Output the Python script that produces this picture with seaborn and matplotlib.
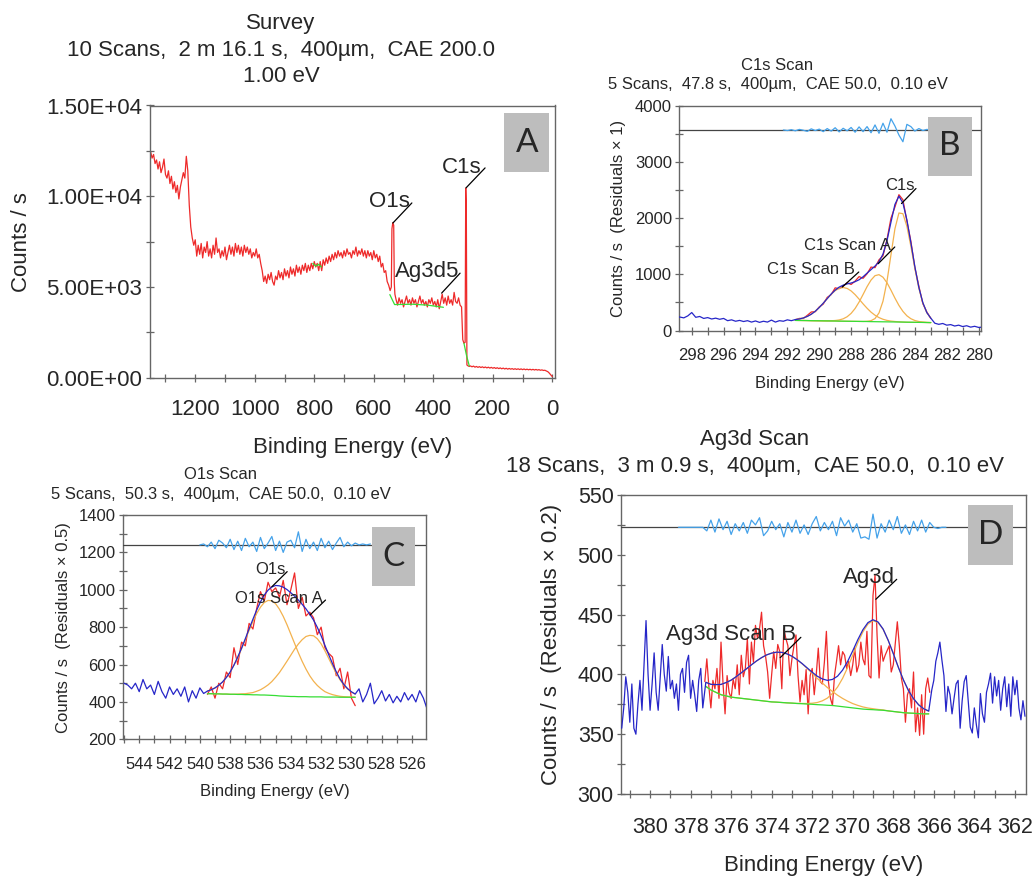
import numpy as np
import matplotlib
matplotlib.use("Agg")
import matplotlib.pyplot as plt
from matplotlib.ticker import MultipleLocator, FuncFormatter
from matplotlib.patches import Rectangle
import seaborn as sns

# ======================= DATA =======================
# ---- Panel A : survey (binding energy eV, counts/s) ----
survey_seg1_start, survey_seg1_step = 1350, 5
survey_seg1_cps = [12450, 12100, 12300, 11800, 12000, 11500, 11900, 11300, 11600, 12050,
                   11200, 11000, 11400, 10700, 11100, 10400, 10800, 10200, 10600, 9850,
                   10500, 10900, 11300, 11000, 12200, 11400, 9500, 8300, 7700, 7300,
                   7600, 6700, 7300, 6800, 7400, 6600, 7200, 6900, 7500, 6700,
                   7100, 6600, 7300, 6800, 7700, 6900, 7100, 6600, 7000, 6700,
                   7200, 6500, 6900, 7300, 6800, 7200, 6700, 7400, 6900, 7300,
                   6800, 7200, 6700, 7300, 6900, 7200, 6800, 7100, 6600, 6900,
                   6700, 7100, 6600, 6800, 6300, 5900, 5300, 5600, 5200, 5700,
                   5400, 5800, 5300, 5100, 5600, 5400, 5900, 5500, 5800, 5400,
                   6000, 5600, 5900, 5500, 6100, 5700, 6000, 5600, 6200, 5800,
                   6100, 5700, 6200, 5900, 6300, 5800, 6200, 5900, 6300, 6000,
                   6400, 6100, 6300, 5900, 6400, 5900, 6500, 6200, 6600, 6300,
                   6700, 6400, 6800, 6500, 6900, 6600, 7000, 6700, 6900, 6600,
                   7000, 6700, 7100, 6800, 6900, 6600, 7000, 6800, 7200, 6700,
                   7000, 6800, 7100, 6700, 7000, 6600, 7000, 6700, 6900, 6500,
                   7000, 6600, 6800, 6400, 6700, 6100, 6300, 5800, 5900, 5300,
                   5100, 4800]
survey_o1s_be = [541, 539, 536, 533, 531, 529]
survey_o1s_cps = [5000, 8200, 8550, 8400, 5200, 4600]
survey_seg2_start, survey_seg2_step = 525, 5
survey_seg2_cps = [4300, 4000, 4400, 4100, 4300, 3900, 4200, 4500, 4100, 4300,
                   4000, 4400, 4100, 4300, 3900, 4200, 4500, 4100, 4300, 4000,
                   4200, 3900, 4300, 4100, 4400, 4000, 4200, 3900, 4300, 3800,
                   4200, 4600, 4100, 4400, 4000, 4500, 4100, 4300, 4000, 4700,
                   4200, 4100, 4400, 4000, 3900]
survey_c1s_be = [301, 297, 293, 291, 289, 287, 283, 279]
survey_c1s_cps = [2100, 1900, 1950, 10450, 9300, 700, 650, 620]
survey_seg3_start, survey_seg3_step = 275, 5
survey_seg3_cps = [650, 600, 640, 580, 620, 570, 610, 560, 600, 550,
                   590, 540, 580, 530, 570, 520, 560, 510, 550, 500,
                   540, 490, 530, 480, 520, 470, 510, 470, 500, 460,
                   495, 455, 490, 450, 485, 445, 480, 440, 470, 435,
                   465, 430, 460, 425, 455, 420, 445, 410, 430, 400,
                   410, 370, 330, 250, 150, 60]
survey_bg_be = [[805, 795, 785, 776], [546, 538, 530, 470, 420, 366], [297, 288, 279]]
survey_bg_cps = [[6300, 6150, 6250, 6100], [4580, 4300, 4030, 4050, 4000, 3880], [1900, 1200, 650]]

# ---- Panel B : C1s (0.25 eV grid) ----
c1s_raw_left_start = 299.0
c1s_raw_left = [235, 240, 225, 260, 320, 235, 250, 215, 230, 205, 220, 200, 215, 175, 190,
                165, 180, 160, 175, 150, 170, 145, 165, 150, 185, 150, 175, 165, 190, 175]
c1s_fit_start = 291.5
c1s_bg = [180, 179, 178, 177, 175, 174, 173, 172, 171, 170, 169, 167, 166, 165, 164, 163, 162, 161,
          160, 158, 157, 156, 155, 154, 153, 152, 151, 150, 148, 147, 146, 145, 144, 142, 141]
c1s_comp_B = [195, 205, 223, 251, 290, 343, 410, 486, 568, 646, 710, 752, 766, 750, 705, 639, 559, 475,
              397, 327, 272, 230, 200, 180, 168, 160, 155, 150, 148, 147, 146, 145, 144, 142, 141]
c1s_comp_A = [180, 179, 178, 177, 175, 174, 173, 172, 171, 174, 178, 188, 208, 245, 305, 392, 507, 642,
              781, 899, 977, 995, 949, 851, 719, 577, 447, 341, 262, 210, 178, 160, 151, 145, 141]
c1s_comp_main = [180, 179, 178, 177, 175, 174, 173, 172, 171, 170, 169, 167, 166, 165, 164, 163, 162, 161,
                 164, 175, 213, 313, 522, 876, 1348, 1814, 2094, 2081, 1856, 1500, 1105, 753, 489, 317, 220]
c1s_envelope = [195, 205, 223, 251, 290, 343, 410, 486, 568, 650, 719, 773, 808, 830, 846, 870, 904, 957,
                1022, 1085, 1148, 1226, 1361, 1599, 1929, 2247, 2394, 2272, 1970, 1563, 1137, 768, 496, 320, 220]
c1s_data = [190, 215, 215, 270, 330, 335, 420, 470, 590, 640, 760, 745, 790, 850, 820, 880, 960, 930,
            1010, 1130, 1120, 1260, 1330, 1620, 2000, 2200, 2420, 2330, 1950, 1590, 1120, 790, 480, 330, 215]
c1s_raw_right_start = 282.75
c1s_raw_right = [130, 110, 125, 95, 105, 80, 95, 70, 85, 60, 75, 55, 60]
c1s_resid_start = 292.25
c1s_resid_base = 3573
c1s_resid = [0, -10, 5, -15, 10, -5, -25, 20, -10, 15, -30, 25, -20, 40, -35, 30, -15, 45, -40, 55,
             -30, 60, -50, 90, -60, 120, -40, 200, 70, -90, -210, 100, 60, -20, 25, -10, 10, 0]

# ---- Panel C : O1s (0.25 eV grid) ----
o1s_raw_left_start = 545.0
o1s_raw_left = [500, 490, 470, 500, 455, 520, 470, 490, 440, 510, 455, 420, 480, 440, 470, 430,
                480, 400, 460, 420, 475, 445]
o1s_fit_start = 539.5
o1s_bg = [444, 444, 443, 443, 442, 442, 441, 441, 440, 440, 439, 439, 438, 438, 437, 437, 436, 435, 434, 432,
          431, 430, 429, 429, 428, 428, 428, 427, 427, 427, 427, 426, 426, 426, 426, 425, 425, 425, 425, 425]
o1s_comp_main = [458, 465, 475, 489, 507, 531, 560, 597, 638, 684, 733, 783, 830, 873, 907, 932, 943, 941, 925, 896,
                 858, 813, 763, 713, 663, 617, 576, 540, 511, 488, 470, 455, 446, 439, 434, 430, 428, 427, 426, 425]
o1s_comp_A = [444, 444, 443, 443, 442, 442, 441, 441, 442, 443, 444, 447, 450, 457, 465, 477, 491, 509, 532, 557,
              587, 618, 650, 682, 710, 733, 750, 756, 754, 738, 711, 674, 633, 592, 553, 518, 490, 469, 453, 442]
o1s_envelope = [458, 465, 475, 489, 507, 531, 560, 597, 640, 687, 738, 791, 842, 892, 935, 972, 998, 1015, 1023, 1021,
                1014, 1001, 984, 966, 945, 922, 898, 869, 838, 799, 754, 703, 653, 605, 561, 523, 493, 471, 454, 442]
o1s_data = [440, 480, 420, 500, 470, 560, 530, 690, 600, 720, 700, 820, 790, 900, 990, 940, 1040, 990, 1010, 960,
            1050, 920, 1000, 1090, 900, 960, 860, 880, 850, 760, 800, 690, 660, 640, 540, 580, 470, 560, 420, 380]
o1s_raw_right_start = 529.5
o1s_raw_right = [470, 400, 440, 500, 390, 420, 460, 405, 440, 395, 430, 400, 450, 410, 440, 400, 460, 420, 360]
o1s_resid_start = 540.0
o1s_resid_base = 1240
o1s_resid = [0, 5, -10, 15, -20, 25, 10, -15, 30, -25, 20, -30, 35, -10, 15, -35, 40, -20, 10, 45,
             -30, 20, -40, 15, 25, -15, 70, -35, 30, -20, 15, -30, 35, -15, 20, -25, 10, 40, -10, 15,
             -5, 10, 0, 5, 0, 5]

# ---- Panel D : Ag3d ----
ag_raw_left_start = 381.4   # 0.1 eV grid
ag_raw_left = [355, 372, 398, 385, 360, 392, 355, 350, 375, 395, 370, 408, 445, 400, 370, 392, 418, 385, 370, 398,
               425, 400, 386, 415, 388, 395, 380, 392, 370, 400, 405, 385, 410, 416, 380, 395, 383, 369, 395, 405,
               372]
ag_fit_start = 377.25       # 0.25 eV grid
ag_bg = [390, 387, 385, 383, 382, 381, 380.5, 380, 379.5, 379, 378.5, 378, 377.5, 377, 376.8, 376.5, 376.2, 376,
         375.7, 375.5, 375.2, 375, 374.7, 374.5, 374.2, 374, 373.5, 373, 372.5, 372, 371.5, 371, 370.7, 370.5,
         370.2, 370, 369.5, 369, 368.5, 368, 367.7, 367.5, 367.2, 367, 367]
ag_comp_B = [393.4, 391.7, 391.5, 391.6, 393.2, 395.2, 398.1, 401.3, 404.6, 408.0, 411.2, 414.0, 416.3, 417.8,
             418.6, 418.4, 417.2, 415.2, 412.4, 408.9, 405.0, 400.9, 396.7, 392.8, 389.0, 385.7, 382.6, 379.9,
             377.6, 375.6, 374.1, 372.8, 371.9, 371.3, 370.7, 370.3, 369.5, 369.0, 368.5, 368.0, 367.7, 367.5,
             367.2, 367.0, 367.0]
ag_comp_main = [390, 387, 385, 383, 382, 381, 380.5, 380, 379.5, 379, 378.5, 378, 377.5, 377, 376.8, 376.5, 376.2,
                376, 375.7, 375.7, 375.7, 375.9, 376.5, 377.9, 380.2, 384.1, 389.4, 396.7, 405.8, 416.1, 426.4,
                435.5, 442.1, 444.9, 443.3, 437.6, 428.5, 417.5, 406.0, 395.4, 386.5, 379.7, 374.6, 371.3, 369.3]
ag_envelope = [393.4, 391.7, 391.5, 391.6, 393.2, 395.2, 398.1, 401.3, 404.6, 408.0, 411.2, 414.0, 416.3, 417.8,
               418.6, 418.4, 417.2, 415.2, 412.4, 409.1, 405.5, 401.8, 398.5, 396.2, 395.0, 395.8, 398.5, 403.6,
               410.9, 419.7, 429.0, 437.3, 443.3, 445.7, 443.8, 437.9, 428.5, 417.5, 406.0, 395.4, 386.5, 379.7,
               374.6, 371.3, 369.3]
ag_data_start = 377.3       # 0.1 eV grid
ag_data = [394, 413, 390, 372, 395, 388, 405, 380, 427, 392, 367, 399, 385, 380, 396, 388, 408, 383, 416, 398,
           405, 430, 392, 427, 410, 441, 430, 438, 452, 424, 415, 402, 380, 400, 419, 405, 425, 419, 388, 438,
           430, 424, 399, 413, 424, 433, 399, 377, 395, 383, 404, 367, 399, 405, 383, 400, 422, 394, 392, 410,
           436, 394, 380, 374, 399, 411, 424, 408, 419, 416, 405, 411, 399, 408, 422, 402, 408, 427, 413, 408,
           436, 399, 397, 466, 483, 433, 397, 424, 411, 416, 420, 424, 402, 408, 426, 444, 424, 397, 388, 360,
           383, 388, 372, 402, 352, 372, 349, 383, 350, 388, 397, 385]
ag_raw_right_start = 366.1  # 0.1 eV grid
ag_raw_right = [387, 395, 411, 418, 427, 412, 399, 369, 390, 383, 367, 380, 392, 395, 355, 378, 394, 399, 377, 356,
                351, 372, 358, 347, 384, 367, 360, 385, 392, 401, 376, 398, 382, 395, 370, 388, 398, 373, 392, 365,
                398, 383, 395, 372, 362, 378, 365]
ag_resid_start = 378.6      # 0.2 eV grid
ag_resid_base = 523
ag_resid = [0, 0, 0, 0, 0, 0, 0,
            -3, 6, -4, 7, -2, 5, -6, 3, -3, 4, -5, 6, 2, 8, -7, -3, 5, -2, 3, -8, 4, -4, 6, -5, 2, -6, 3, 9,
            -3, 4, -2, 5, -7, 8, 1, 6, -4, 3, -9, -8, -10, 11, -9, 3, -4, 6, -2, 9, -5, 2, -6, 5, -3, 6, -4, 4,
            0, -1, 0, 0]

# ======================= STYLE =======================
sns.set_style("white")
plt.rcParams['font.family'] = ['Liberation Sans', 'DejaVu Sans']

RED = '#ee2a2a'
BLUE = '#2626c8'
ORANGE = '#f3b24e'
GREEN = '#35dd35'
RESID = '#45a2ea'
SPINE = '#666666'
BOXC = '#bdbdbd'

W, H = 1035, 876
fig = plt.figure(figsize=(W / 100, H / 100), dpi=100)
fig.patch.set_facecolor('white')


def ax_at(l, t, r, b):
    return fig.add_axes([l / W, 1 - b / H, (r - l) / W, (b - t) / H])


def grid(start, step, vals):
    return start - step * np.arange(len(vals))


def line(ax, x, y, color, lw=0.9, z=2):
    sns.lineplot(x=np.asarray(x, float), y=np.asarray(y, float), ax=ax, color=color,
                 linewidth=lw, estimator=None, sort=False, legend=False, zorder=z)


def style(ax, fs, xpad, ypad):
    for s in ax.spines.values():
        s.set_color(SPINE)
        s.set_linewidth(1.0)
    ax.tick_params(which='both', direction='inout', length=6, width=0.9, color=SPINE,
                   labelsize=fs, bottom=True, left=True, top=False, right=False)
    ax.tick_params(axis='x', which='both', pad=xpad)
    ax.tick_params(axis='y', which='both', pad=ypad)
    ax.set_facecolor('white')


def labels(ax, xl, yl, fs, xly, ylx):
    ax.set_xlabel(xl, fontsize=fs)
    ax.set_ylabel(yl, fontsize=fs)
    ax.xaxis.set_label_coords(0.5, xly)
    ax.yaxis.set_label_coords(ylx, 0.5)
    ax.xaxis.label.set_va('center')
    ax.yaxis.label.set_va('center')


def ftext(px, py, s, fs, **kw):
    fig.text(px / W, 1 - py / H, s, fontsize=fs, ha='center', va='center', **kw)


def letter_box(l, t, r, b, s):
    fig.add_artist(Rectangle((l / W, 1 - b / H), (r - l) / W, (b - t) / H,
                             transform=fig.transFigure, facecolor=BOXC, edgecolor='none', zorder=5))
    fig.text((l + r) / 2 / W, 1 - (t + b) / 2 / H, s, fontsize=24, family=['Lato', 'DejaVu Sans'],
             ha='center', va='center', zorder=6)


def leader(ax, text, tx, ty, x1, y1, x2, y2, fs):
    ax.text(tx, ty, text, fontsize=fs, ha='center', va='center', zorder=6)
    ax.annotate('', xy=(x2, y2), xytext=(x1, y1),
                arrowprops=dict(arrowstyle='-', color='black', lw=0.9, shrinkA=0, shrinkB=0), zorder=6)


# ======================= PANEL A =======================
axA = ax_at(150, 105.5, 555, 377.7)
be_A = np.concatenate([grid(survey_seg1_start, survey_seg1_step, survey_seg1_cps), survey_o1s_be,
                       grid(survey_seg2_start, survey_seg2_step, survey_seg2_cps), survey_c1s_be,
                       grid(survey_seg3_start, survey_seg3_step, survey_seg3_cps)])
cps_A = np.concatenate([survey_seg1_cps, survey_o1s_cps, survey_seg2_cps, survey_c1s_cps, survey_seg3_cps])
line(axA, be_A, cps_A, RED, lw=0.9)
for xb, yb in zip(survey_bg_be, survey_bg_cps):
    line(axA, xb, yb, GREEN, lw=0.9, z=3)
axA.set_xlim(1352, -9)
axA.set_ylim(0, 15000)
axA.xaxis.set_major_locator(MultipleLocator(200))
axA.xaxis.set_minor_locator(MultipleLocator(100))
axA.yaxis.set_major_locator(MultipleLocator(5000))
axA.yaxis.set_minor_locator(MultipleLocator(2500))
axA.yaxis.set_major_formatter(FuncFormatter(lambda v, p: f"{v:.2E}"))
style(axA, 16, 12.5, 2.5)
labels(axA, 'Binding Energy (eV)', 'Counts / s', 16, -0.255, -0.318)
leader(axA, 'O1s', 549, 9717, 472, 9630, 536, 8520, 16)
leader(axA, 'C1s', 305, 11600, 226, 11560, 290, 10460, 16)
leader(axA, 'Ag3d5', 422, 5850, 310, 5760, 372, 4660, 16)
ftext(281, 23.3, 'Survey', 16)
ftext(281, 50.8, '10 Scans,  2 m 16.1 s,  400µm,  CAE 200.0', 16)
ftext(281, 76.7, '1.00 eV', 16)
letter_box(504.3, 112.7, 549.3, 172.3, 'A')

# ======================= PANEL B =======================
axB = ax_at(679, 106, 981, 330.5)
xB_fit = grid(c1s_fit_start, 0.25, c1s_bg)
xB_left = grid(c1s_raw_left_start, 0.25, c1s_raw_left)
xB_right = grid(c1s_raw_right_start, 0.25, c1s_raw_right)
line(axB, xB_fit, c1s_data, RED, z=2)
line(axB, xB_fit, c1s_comp_B, ORANGE, z=3)
line(axB, xB_fit, c1s_comp_A, ORANGE, z=3)
line(axB, xB_fit, c1s_comp_main, ORANGE, z=3)
line(axB, xB_fit, c1s_bg, GREEN, z=3)
line(axB, np.concatenate([xB_left, xB_fit, xB_right]),
     np.concatenate([c1s_raw_left, c1s_envelope, c1s_raw_right]), BLUE, z=4)
axB.axhline(c1s_resid_base, color='#444444', lw=0.9, zorder=3)
line(axB, grid(c1s_resid_start, 0.25, c1s_resid), np.asarray(c1s_resid) + c1s_resid_base, RESID, z=4)
axB.set_xlim(298.8, 279.85)
axB.set_ylim(0, 4000)
axB.xaxis.set_major_locator(MultipleLocator(2))
axB.xaxis.set_minor_locator(MultipleLocator(1))
axB.yaxis.set_major_locator(MultipleLocator(1000))
axB.yaxis.set_minor_locator(MultipleLocator(500))
style(axB, 12, 9.5, 2)
labels(axB, 'Binding Energy (eV)', 'Counts / s  (Residuals × 1)', 12, -0.235, -0.201)
leader(axB, 'C1s', 284.96, 2575, 283.93, 2530, 284.84, 2262, 12)
leader(axB, 'C1s Scan A', 288.23, 1518, 285.26, 1488, 286.3, 1190, 12)
leader(axB, 'C1s Scan B', 290.5, 1086, 287.52, 1042, 288.56, 773, 12)
ftext(777.5, 65, 'C1s Scan', 12)
ftext(777.5, 84.5, '5 Scans,  47.8 s,  400µm,  CAE 50.0,  0.10 eV', 12)
letter_box(927.5, 116.7, 972, 176, 'B')

# ======================= PANEL C =======================
axC = ax_at(123.3, 515, 425.7, 739.3)
xC_fit = grid(o1s_fit_start, 0.25, o1s_bg)
xC_left = grid(o1s_raw_left_start, 0.25, o1s_raw_left)
xC_right = grid(o1s_raw_right_start, 0.25, o1s_raw_right)
line(axC, xC_fit, o1s_data, RED, z=2)
line(axC, xC_fit, o1s_comp_main, ORANGE, z=3)
line(axC, xC_fit, o1s_comp_A, ORANGE, z=3)
line(axC, xC_fit, o1s_bg, GREEN, z=3)
line(axC, np.concatenate([xC_left, xC_fit, xC_right]),
     np.concatenate([o1s_raw_left, o1s_envelope, o1s_raw_right]), BLUE, z=4)
axC.axhline(o1s_resid_base, color='#444444', lw=0.9, zorder=3)
line(axC, grid(o1s_resid_start, 0.25, o1s_resid), np.asarray(o1s_resid) + o1s_resid_base, RESID, z=4)
axC.set_xlim(545.05, 525.1)
axC.set_ylim(200, 1400)
axC.xaxis.set_major_locator(MultipleLocator(2))
axC.xaxis.set_minor_locator(MultipleLocator(1))
axC.yaxis.set_major_locator(MultipleLocator(200))
axC.yaxis.set_minor_locator(MultipleLocator(100))
style(axC, 12, 10, 2.3)
labels(axC, 'Binding Energy (eV)', 'Counts / s  (Residuals × 0.5)', 12, -0.234, -0.198)
leader(axC, 'O1s', 535.35, 1106, 534.24, 1097, 535.25, 1016, 12)
leader(axC, 'O1s Scan A', 534.8, 954, 531.71, 945, 532.73, 865, 12)
ftext(221, 474.5, 'O1s Scan', 12)
ftext(221, 494.5, '5 Scans,  50.3 s,  400µm,  CAE 50.0,  0.10 eV', 12)
letter_box(372.2, 526.7, 415.3, 586.3, 'C')

# ======================= PANEL D =======================
axD = ax_at(620.7, 495, 1026, 794)
xD_fit = grid(ag_fit_start, 0.25, ag_bg)
xD_left = grid(ag_raw_left_start, 0.1, ag_raw_left)
xD_right = grid(ag_raw_right_start, 0.1, ag_raw_right)
xD_data = grid(ag_data_start, 0.1, ag_data)
line(axD, xD_data, ag_data, RED, z=2)
line(axD, xD_fit, ag_comp_B, ORANGE, z=3)
line(axD, xD_fit, ag_comp_main, ORANGE, z=3)
line(axD, xD_fit, ag_bg, GREEN, z=3)
line(axD, np.concatenate([xD_left, xD_fit, xD_right]),
     np.concatenate([ag_raw_left, ag_envelope, ag_raw_right]), BLUE, z=4)
axD.axhline(ag_resid_base, color='#444444', lw=0.9, zorder=3)
line(axD, grid(ag_resid_start, 0.2, ag_resid), np.asarray(ag_resid) + ag_resid_base, RESID, z=4)
axD.set_xlim(381.45, 361.45)
axD.set_ylim(300, 550)
axD.xaxis.set_major_locator(MultipleLocator(2))
axD.xaxis.set_minor_locator(MultipleLocator(1))
axD.yaxis.set_major_locator(MultipleLocator(50))
axD.yaxis.set_minor_locator(MultipleLocator(25))
style(axD, 15.5, 13.5, 2)
labels(axD, 'Binding Energy (eV)', 'Counts / s  (Residuals × 0.2)', 16, -0.2375, -0.17)
leader(axD, 'Ag3d', 369.2, 481, 367.83, 479.5, 368.86, 462.8, 16)
leader(axD, 'Ag3d Scan B', 376.0, 433.6, 372.56, 431, 373.58, 414, 16)
ftext(755, 439, 'Ag3d Scan', 16)
ftext(755, 466.7, '18 Scans,  3 m 0.9 s,  400µm,  CAE 50.0,  0.10 eV', 16)
letter_box(967.7, 505, 1013, 564.5, 'D')

fig.savefig('out.png', dpi=100, facecolor='white')
